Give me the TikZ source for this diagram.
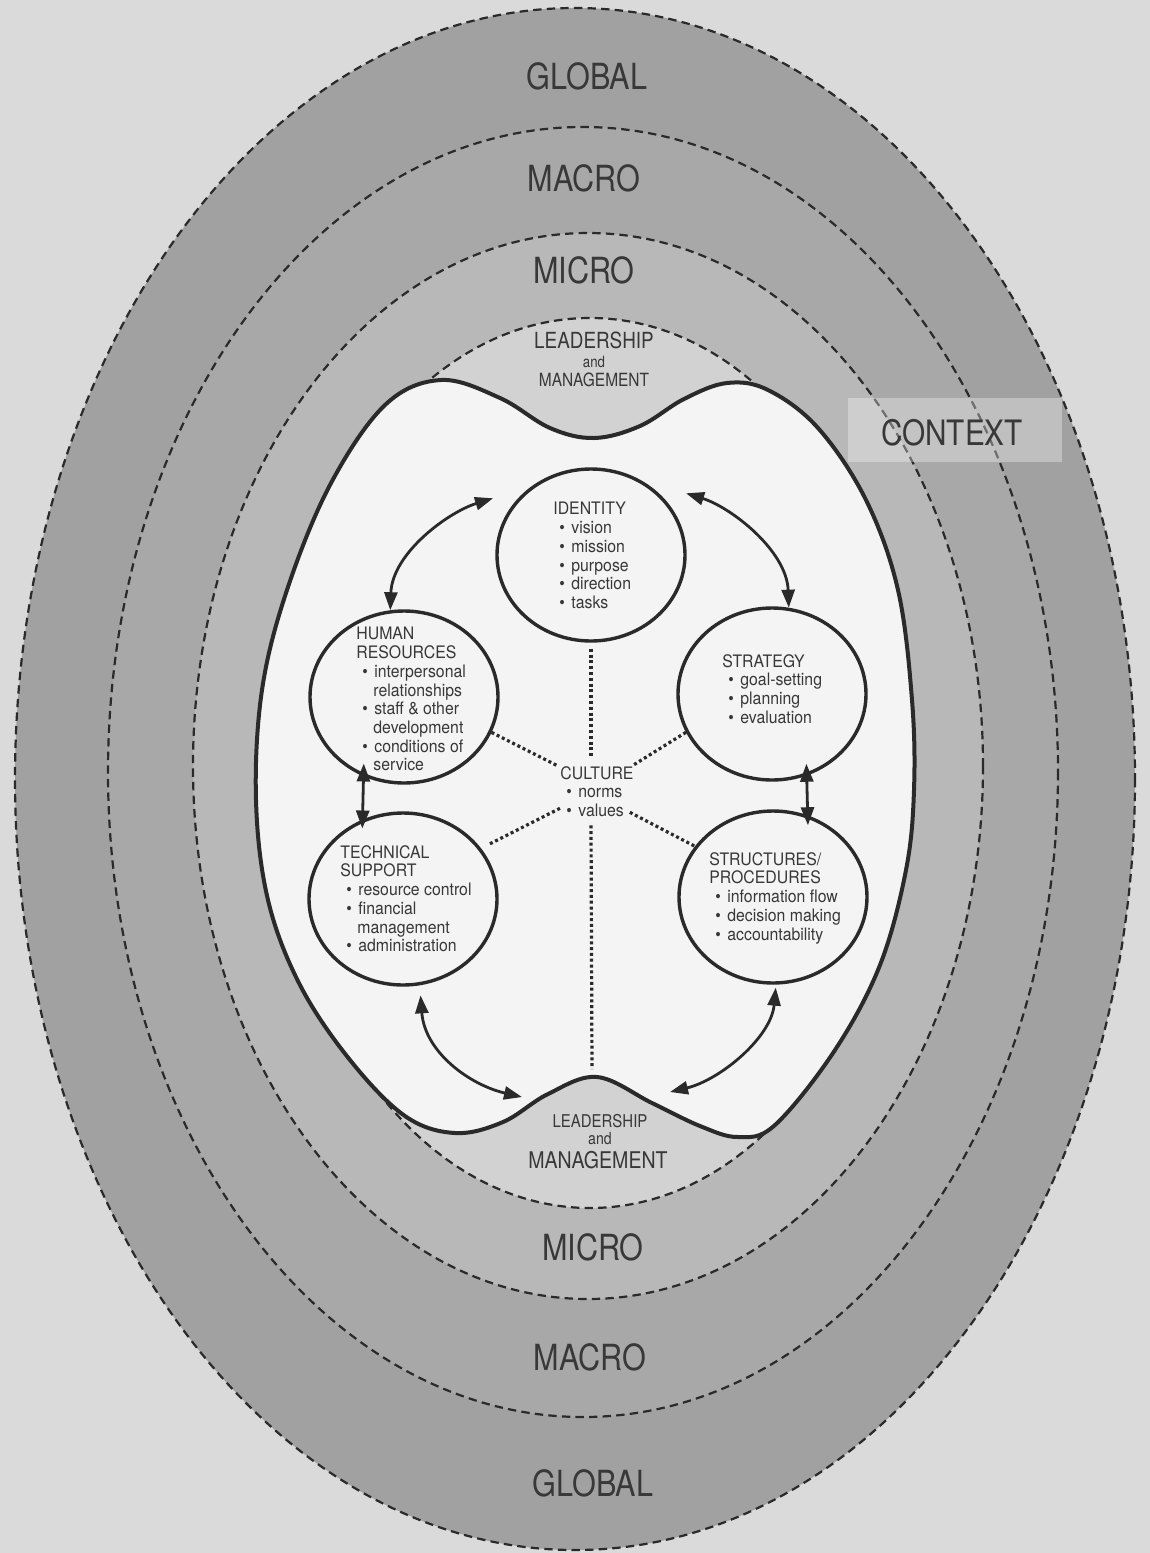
\documentclass[tikz,border=0pt]{standalone}
\usepackage{fontspec}
\setmainfont{TeX Gyre Heros}
\newfontfamily\lblfont{TeX Gyre Heros}[FakeStretch=0.85]
\newfontfamily\txtfont{TeX Gyre Heros}[FakeStretch=0.92]
\usetikzlibrary{arrows.meta,shapes.geometric,calc}

\definecolor{paper}{HTML}{DADADA}
\definecolor{globalband}{HTML}{A1A1A1}
\definecolor{macroband}{HTML}{A8A8A8}
\definecolor{microband}{HTML}{B8B8B8}
\definecolor{lmzone}{HTML}{D2D2D2}
\definecolor{core}{HTML}{F4F4F4}
\definecolor{ink}{HTML}{2A2A2A}
\definecolor{inktext}{HTML}{383838}

% bullet item and continuation line inside the area texts
\newcommand\bitem[1]{\hspace*{3pt}\makebox[6pt][l]{\textbullet}#1}
\newcommand\bcont[1]{\hspace*{8.5pt}#1}

\tikzset{
  zone/.style={draw=ink, dash pattern=on 4.2pt off 2.6pt, line width=1.1pt},
  area/.style={ellipse, draw=ink, line width=1.7pt, fill=core,
    minimum width=94pt, minimum height=86pt, inner sep=0pt},
  areatext/.style={anchor=north west, inner sep=0pt, align=left,
    font=\txtfont\fontsize{8.6}{9.35}\selectfont, text=inktext},
  ctxlabel/.style={font=\lblfont\fontsize{18}{20}\selectfont, text=inktext, inner sep=0pt},
  lmlabel/.style={font=\lblfont, text=inktext, inner sep=0pt},
  link/.style={line width=1.4pt, draw=ink,
    {Triangle[length=9pt,width=6.5pt]}-{Triangle[length=9pt,width=6.5pt]}},
  tie/.style={line width=1.6pt, dash pattern=on 1.5pt off 1.4pt, draw=ink},
}

\begin{document}
\begin{tikzpicture}[x=0.5pt, y=-0.5pt, line join=round]
\fill[paper] (0,0) rectangle (1150,1553);
\useasboundingbox (0,0) rectangle (1150,1553);

% nested context zones
\filldraw[zone, fill=globalband] (575,779) ellipse [x radius=560, y radius=771];
\filldraw[zone, fill=macroband] (583,772) ellipse [x radius=475, y radius=645];
\filldraw[zone, fill=microband] (588,766) ellipse [x radius=395, y radius=533];
\filldraw[zone, fill=lmzone] (590,763) ellipse [x radius=315, y radius=445];

% the school core
\filldraw[draw=ink, line width=2pt, fill=core]
  plot[smooth cycle, tension=0.6] coordinates {
  (594,438) (640,426) (684,399) (727,383) (768,390) (818,428) (866,500)
  (898,590) (912,700) (914,790) (906,870) (880,965) (835,1050) (775,1125)
  (738,1137) (700,1126) (652,1103) (597,1077) (548,1094) (503,1122)
  (455,1133) (405,1116) (350,1060) (300,985) (268,900) (256,800)
  (262,690) (287,590) (330,485) (385,405) (441,380) (500,398) (550,428)};

% context labels
\node[ctxlabel] (g1) at (587,76) {GLOBAL};
\node[ctxlabel] (ma1) at (584,178) {MACRO};
\node[ctxlabel] (mi1) at (584,270) {MICRO};
\node[ctxlabel] (mi2) at (593,1247) {MICRO};
\node[ctxlabel] (ma2) at (590,1357) {MACRO};
\node[ctxlabel] (g2) at (593,1483) {GLOBAL};

% leadership and management labels
\node[lmlabel, font=\lblfont\fontsize{11.1}{12}\selectfont] (lt1) at (594,340) {LEADERSHIP};
\node[lmlabel, font=\lblfont\fontsize{7.8}{9}\selectfont] (lt2) at (594,362) {and};
\node[lmlabel, font=\lblfont\fontsize{9.1}{10}\selectfont] (lt3) at (594,380) {MANAGEMENT};
\node[lmlabel, font=\lblfont\fontsize{8.8}{10}\selectfont] (lb1) at (600,1121) {LEADERSHIP};
\node[lmlabel, font=\lblfont\fontsize{8.3}{9}\selectfont] (lb2) at (600,1139) {and};
\node[lmlabel, font=\lblfont\fontsize{11.5}{12}\selectfont] (lb3) at (598,1160) {MANAGEMENT};

% the five areas
\node[area] (idn) at (591,555) {};
\node[area] (hr)  at (404,697) {};
\node[area] (str) at (772,694) {};
\node[area] (tec) at (403,899) {};
\node[area] (sp)  at (773,897) {};

\node[areatext] (idnt) at (553,502) {IDENTITY\\\bitem{vision}\\\bitem{mission}\\\bitem{purpose}\\\bitem{direction}\\\bitem{tasks}};
\node[areatext] (hrt) at (356,627) {HUMAN\\RESOURCES\\\bitem{interpersonal}\\\bcont{relationships}\\\bitem{staff \& other}\\\bcont{development}\\\bitem{conditions of}\\\bcont{service}};
\node[areatext] (strt) at (722,654) {STRATEGY\\\bitem{goal-setting}\\\bitem{planning}\\\bitem{evaluation}};
\node[areatext] (tect) at (340,845) {TECHNICAL\\SUPPORT\\\bitem{resource control}\\\bitem{financial}\\\bcont{management}\\\bitem{administration}};
\node[areatext] (spt) at (709,852) {STRUCTURES/\\PROCEDURES\\\bitem{information flow}\\\bitem{decision making}\\\bitem{accountability}};
\node[areatext] (cul) at (560,766) {CULTURE\\\bitem{norms}\\\bitem{values}};

% culture ties
\coordinate (bump) at (592,1069);
\draw[tie] ([yshift=-3pt]idn.south) -- ([yshift=4pt]idn.south |- cul.north);
\draw[tie] ([yshift=-4pt]idn.south |- cul.south) -- (bump);
\draw[tie] (hr.-22) -- ([xshift=-1pt]cul.north west);
\draw[tie] (str.204) -- ([xshift=-1pt]cul.north east);
\draw[tie, shorten <=5pt] (tec.33) -- ([yshift=4.5pt]cul.south west);
\draw[tie] ([shift={(-2pt,2.5pt)}]cul.south east) -- (sp.147);

% two-way links
\path (idn.150) ++(-17,-10) coordinate (i-hr);
\path (idn.33) ++(17,-11) coordinate (i-st);
\coordinate (lm-l) at (522,1097);
\coordinate (lm-r) at (670,1092);

\draw[link] (hr.99) .. controls +(2,-57) and +(-45,14) .. (i-hr);
\draw[link] (str.79) .. controls +(-2,-57) and +(45,14) .. (i-st);
\draw[link, shorten <=-6.5pt, shorten >=-4.5pt] (hr.243) -- (tec.117);
\draw[link, shorten <=-6pt, shorten >=-5pt] (str.293) -- (sp.67);
\draw[link, shorten <=5pt] (tec.281) .. controls +(5,67) and +(-52,-12) .. (lm-l);
\draw[link, shorten <=1.5pt] (sp.272) .. controls +(-5,53) and +(50,-12) .. (lm-r);

% context tag
\node[fill=white, fill opacity=0.32, minimum width=107pt,
  minimum height=32pt, inner sep=0pt] (ctx) at (955,430) {};
\node[inner sep=0pt, font=\lblfont\fontsize{17.5}{19}\selectfont, text=inktext]
  (ctxt) at (952,433) {CONTEXT};
\end{tikzpicture}
\end{document}
